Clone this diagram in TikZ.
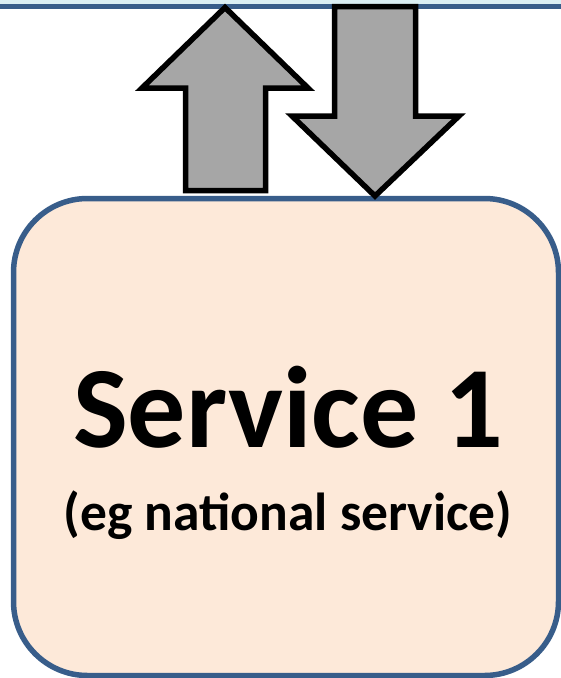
\documentclass[tikz,border=0pt]{standalone}
\usepackage{fontspec}
\setmainfont{Carlito}
\definecolor{boxfill}{HTML}{FDE9D9}
\definecolor{boxline}{HTML}{385D8A}
\definecolor{topfill}{HTML}{DAEEF3}
\definecolor{arrowfill}{HTML}{A6A6A6}
\tikzset{
  blockarrow/.style={draw=black, fill=arrowfill, line width=5.5pt, line join=miter, miter limit=10},
  servicebox/.style={draw=boxline, fill=boxfill, line width=5.5pt, rounded corners=74pt},
}
\begin{document}
\begin{tikzpicture}[x=1pt,y=-1pt]
\useasboundingbox (0,0) rectangle (561,678);
\begin{scope}
\clip (0,0) rectangle (561,678);
% upper service box bottom edge
\fill[topfill] (-20,-40) rectangle (600,6.5);
\draw[boxline, line width=5.5pt] (-20,6.5) -- (600,6.5);
% service box
\draw[servicebox] (13.5,198.5) rectangle (558.5,675.5);
% arrows
\draw[blockarrow] (225,7.5) -- (308,88) -- (265.5,88) -- (265.5,190.5) -- (185.5,190.5) -- (185.5,88) -- (142,88) -- cycle;
\draw[blockarrow] (334.5,6.5) -- (415.5,6.5) -- (415.5,116) -- (459,116) -- (375,196) -- (292,116) -- (334.5,116) -- cycle;
\end{scope}
\node[font=\bfseries\fontsize{116}{120}\selectfont, anchor=base, inner sep=0pt] (title) at (288.5,447) {Service 1};
\node[font=\bfseries\fontsize{53.5}{56}\selectfont, anchor=base, inner sep=0pt] (sub) at (288,530) {(eg national service)};
\end{tikzpicture}
\end{document}
